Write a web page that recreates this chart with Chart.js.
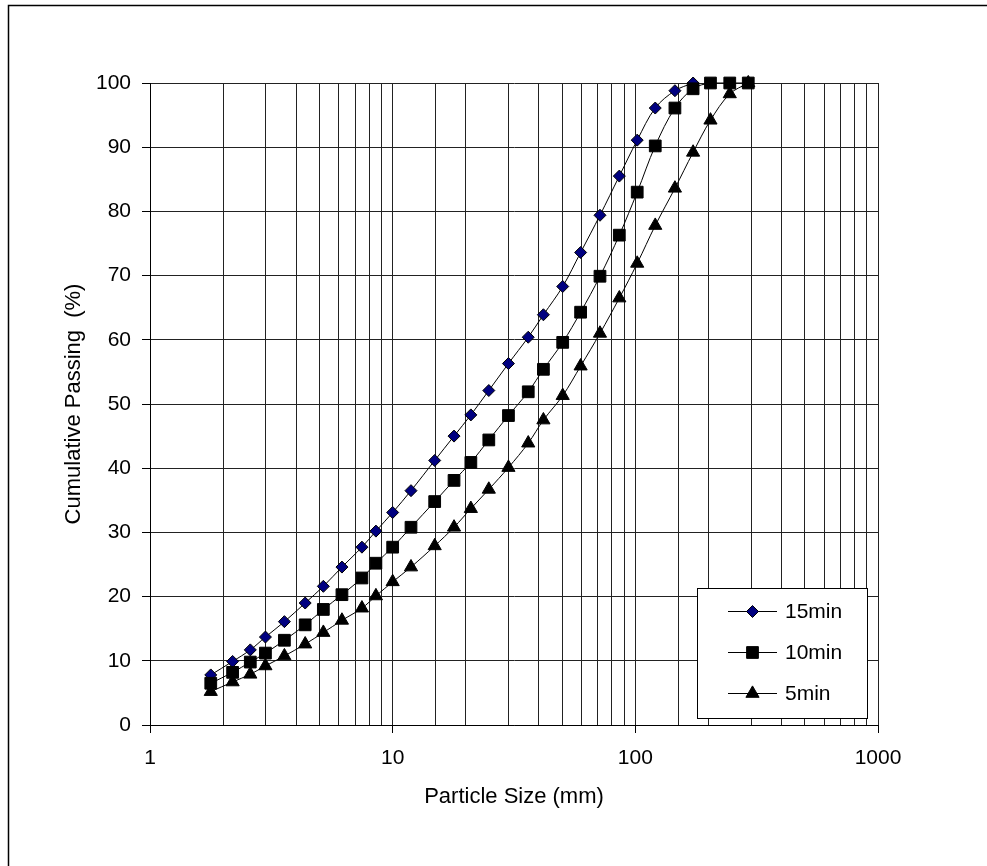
<!DOCTYPE html>
<html lang="en">
<head>
    <meta charset="UTF-8">
    <title>Cumulative Passing vs Particle Size</title>
    <script src="https://cdn.jsdelivr.net/npm/chart.js"></script>
    <style>
        html, body {
            margin: 0;
            padding: 0;
            background: #fff;
            overflow: hidden;
        }
        #wrap {
            position: relative;
            width: 987px;
            height: 866px;
        }
    </style>
</head>
<body>
    <div id="wrap">
        <canvas id="psd"></canvas>
    </div>

    <script>
        // sieve sizes (mm), shared by all three grinding times
        const sizes = [1.78, 2.19, 2.59, 2.99, 3.58, 4.36, 5.18, 6.18, 7.47, 8.53,
                       10.0, 11.9, 14.9, 17.9, 21.0, 24.9, 30.0, 36.2, 41.8, 50.2,
                       59.5, 71.5, 85.9, 101.8, 120.8, 145.6, 173, 204, 245, 292];

        // cumulative passing (%)
        const pass15 = [7.8, 9.9, 11.7, 13.7, 16.1, 19.0, 21.6, 24.6, 27.7, 30.2,
                        33.1, 36.5, 41.2, 45.0, 48.3, 52.1, 56.3, 60.4, 63.9, 68.3,
                        73.6, 79.4, 85.5, 91.1, 96.1, 98.8, 100];
        const pass10 = [6.5, 8.2, 9.8, 11.2, 13.2, 15.6, 18.0, 20.3, 22.9, 25.2,
                        27.7, 30.8, 34.8, 38.1, 40.9, 44.4, 48.2, 51.9, 55.4, 59.6,
                        64.3, 69.9, 76.3, 83.0, 90.2, 96.1, 99.1, 100, 100, 100];
        const pass5 = [5.2, 6.7, 7.9, 9.2, 10.75, 12.6, 14.4, 16.3, 18.2, 20.1,
                       22.3, 24.6, 27.9, 30.8, 33.7, 36.7, 40.1, 43.9, 47.5, 51.3,
                       55.9, 61.0, 66.5, 71.9, 77.8, 83.6, 89.2, 94.2, 98.3, 100];

        const seriesNames = ['15min', '10min', '5min'];
        const xTickLabels = [1, 10, 100, 1000];

        const FONT = "'Liberation Sans', Arial, sans-serif";

        function toPoints(vals) {
            return vals.map((v, i) => ({ x: sizes[i], y: v }));
        }

        // own marker drawing, used for the legend box
        function drawMarker(ctx, style, x, y, r, fill) {
            ctx.save();
            ctx.fillStyle = fill;
            ctx.strokeStyle = '#000';
            ctx.lineWidth = 1;
            ctx.beginPath();
            if (style === 'rectRot') {
                ctx.moveTo(x, y - r);
                ctx.lineTo(x + r, y);
                ctx.lineTo(x, y + r);
                ctx.lineTo(x - r, y);
            } else if (style === 'rect') {
                const s = Math.SQRT1_2 * r;
                ctx.rect(x - s, y - s, 2 * s, 2 * s);
            } else {
                ctx.moveTo(x, y - r);
                ctx.lineTo(x + r * Math.sin(Math.PI / 3), y + r / 2);
                ctx.lineTo(x - r * Math.sin(Math.PI / 3), y + r / 2);
            }
            ctx.closePath();
            ctx.fill();
            ctx.stroke();
            ctx.restore();
        }

        // page frame: top and left rules of the original figure
        const framePlugin = {
            id: 'frame',
            beforeDraw(chart) {
                const ctx = chart.ctx;
                ctx.save();
                ctx.strokeStyle = '#000';
                ctx.lineWidth = 1.5;
                ctx.beginPath();
                ctx.moveTo(8.5, chart.height);
                ctx.lineTo(8.5, 5.5);
                ctx.lineTo(chart.width, 5.5);
                ctx.stroke();
                ctx.restore();
            }
        };

        // legend box in the lower right of the plot
        const legendBox = {
            id: 'legendBox',
            afterDraw(chart) {
                const ctx = chart.ctx;
                const box = { x: 697.5, y: 588.5, w: 170, h: 130 };
                ctx.save();
                ctx.fillStyle = '#fff';
                ctx.fillRect(box.x, box.y, box.w, box.h);
                ctx.strokeStyle = '#000';
                ctx.lineWidth = 1;
                ctx.strokeRect(box.x, box.y, box.w, box.h);

                const rows = [611, 652, 693];
                chart.data.datasets.forEach((ds, i) => {
                    const y = rows[i] + 0.5;
                    ctx.beginPath();
                    ctx.moveTo(728, y);
                    ctx.lineTo(777, y);
                    ctx.strokeStyle = '#000';
                    ctx.lineWidth = 1;
                    ctx.stroke();
                    drawMarker(ctx, ds.pointStyle, 752.5, y, ds.pointRadius, ds.pointBackgroundColor);
                    ctx.fillStyle = '#000';
                    ctx.font = '21px ' + FONT;
                    ctx.textAlign = 'left';
                    ctx.textBaseline = 'middle';
                    ctx.fillText(ds.label, 785, y + 1);
                });
                ctx.restore();
            }
        };

        const ctx = document.getElementById('psd').getContext('2d');
        new Chart(ctx, {
            type: 'line',
            data: {
                datasets: [
                    {
                        label: seriesNames[0],
                        data: toPoints(pass15),
                        order: 3,
                        pointStyle: 'rectRot',
                        pointRadius: 6,
                        pointBackgroundColor: '#000080',
                        pointBorderColor: '#000',
                        pointBorderWidth: 1
                    },
                    {
                        label: seriesNames[1],
                        data: toPoints(pass10),
                        order: 2,
                        pointStyle: 'rect',
                        pointRadius: 8.3,
                        pointBackgroundColor: '#000',
                        pointBorderColor: '#000',
                        pointBorderWidth: 1
                    },
                    {
                        label: seriesNames[2],
                        data: toPoints(pass5),
                        order: 1,
                        pointStyle: 'triangle',
                        pointRadius: 7.6,
                        pointBackgroundColor: '#000',
                        pointBorderColor: '#000',
                        pointBorderWidth: 1
                    }
                ]
            },
            options: {
                responsive: true,
                maintainAspectRatio: false,
                animation: false,
                layout: {
                    padding: { left: 0, top: 83, right: 109, bottom: 0 }
                },
                elements: {
                    line: {
                        borderColor: '#000',
                        borderWidth: 1,
                        tension: 0.35,
                        fill: false
                    }
                },
                datasets: {
                    line: { clip: false }
                },
                plugins: {
                    legend: { display: false },
                    tooltip: { enabled: false }
                },
                scales: {
                    x: {
                        type: 'logarithmic',
                        min: 1,
                        max: 1000,
                        afterFit(scale) { scale.height = 141; },
                        border: { color: '#000', width: 1 },
                        grid: {
                            color: '#222',
                            lineWidth: 1,
                            drawTicks: true,
                            tickLength: 8,
                            tickColor: c => xTickLabels.includes(c.tick.value) ? '#000' : 'rgba(0,0,0,0)'
                        },
                        ticks: {
                            autoSkip: false,
                            maxRotation: 0,
                            minRotation: 0,
                            padding: 13,
                            color: '#000',
                            font: { family: FONT, size: 21 },
                            callback: v => xTickLabels.includes(v) ? String(v) : ''
                        },
                        title: {
                            display: true,
                            text: 'Particle Size (mm)',
                            color: '#000',
                            font: { family: FONT, size: 22 },
                            padding: { top: 0, bottom: 56 }
                        }
                    },
                    y: {
                        min: 0,
                        max: 100,
                        afterFit(scale) { scale.width = 150; },
                        border: { color: '#000', width: 1 },
                        grid: {
                            color: '#222',
                            lineWidth: 1,
                            tickLength: 8,
                            tickColor: '#000'
                        },
                        ticks: {
                            stepSize: 10,
                            padding: 11,
                            color: '#000',
                            font: { family: FONT, size: 21 }
                        },
                        title: {
                            display: true,
                            text: 'Cumulative Passing  (%)',
                            color: '#000',
                            font: { family: FONT, size: 22 },
                            padding: { top: 61, bottom: 0 }
                        }
                    }
                }
            },
            plugins: [framePlugin, legendBox]
        });
    </script>
</body>
</html>
